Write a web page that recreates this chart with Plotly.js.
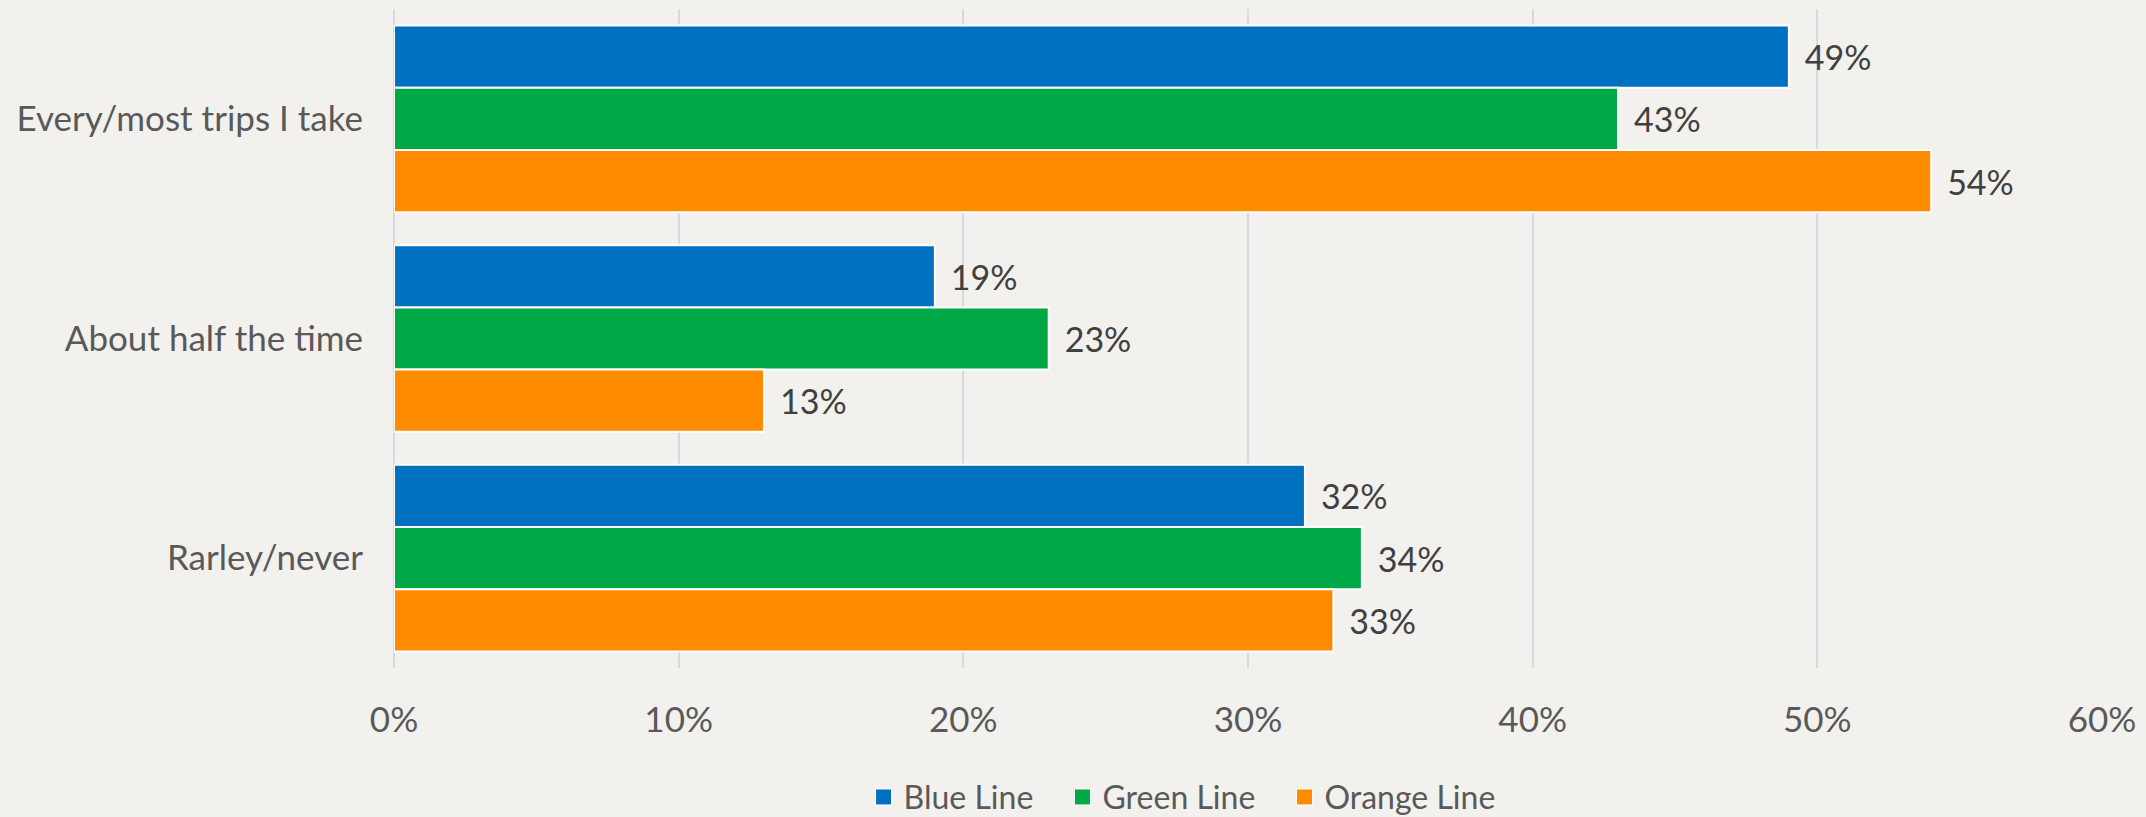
<!DOCTYPE html>
<html>
<head>
<meta charset="utf-8">
<script src="https://cdn.plot.ly/plotly-3.0.1.min.js"></script>
<style>
  html, body { margin: 0; padding: 0; background: #F2F1EE; }
  #chart { width: 2146px; height: 817px; }
</style>
</head>
<body>
<div id="chart"></div>
<script>
// ---- data ----
const categories = ["Every/most trips I take", "About half the time", "Rarley/never"];
const seriesNames = ["Blue Line", "Green Line", "Orange Line"];
const blueLine = [49, 19, 32];
const greenLine = [43, 23, 34];
const orangeLine = [54, 13, 33];
const xTickValues = [0, 10, 20, 30, 40, 50, 60];

const seriesValues = [blueLine, greenLine, orangeLine];
const colors = ["#0070C0", "#00A846", "#FF8C00"];
const FONT = "Lato, 'Open Sans', sans-serif";

const traces = [];
seriesValues.forEach((vals, i) => {
  traces.push({
    type: "bar",
    orientation: "h",
    name: seriesNames[i],
    y: categories,
    x: vals,
    marker: { color: colors[i], line: { color: "#FFFFFF", width: 2 } },
    text: vals.map(v => "\u00A0\u2009" + v + "%"),
    texttemplate: "%{text}",
    textposition: "outside",
    constraintext: "none",
    cliponaxis: false,
    textfont: { family: FONT, size: 34, color: "#404040" },
    hoverinfo: "skip",
    showlegend: false
  });
});
// legend proxies (square swatches); trailing spacing mimics the reference item gaps
seriesValues.forEach((vals, i) => {
  const pad = i < seriesValues.length - 1 ? "\u2002\u00A0" : "";
  traces.push({
    type: "scatter",
    mode: "markers",
    name: seriesNames[i] + pad,
    x: [null],
    y: [null],
    marker: { symbol: "square", size: 16, color: colors[i], line: { color: "#FFFFFF", width: 1 } },
    showlegend: true,
    hoverinfo: "skip"
  });
});

const layout = {
  width: 2146,
  height: 817,
  paper_bgcolor: "#F2F1EE",
  plot_bgcolor: "#F2F1EE",
  margin: { l: 394, r: 44, t: 9, b: 149, pad: 0, autoexpand: false },
  barmode: "group",
  bargap: 0.15,
  bargroupgap: 0,
  font: { family: FONT, color: "#595959", size: 35 },
  xaxis: {
    range: [0, 60],
    tickvals: xTickValues,
    ticktext: xTickValues.map(v => v + "%"),
    showgrid: true,
    gridcolor: "#D9D9D9",
    gridwidth: 2,
    zeroline: true,
    zerolinecolor: "#D9D9D9",
    zerolinewidth: 2,
    showline: false,
    ticks: "",
    ticklabelstandoff: 28,
    tickfont: { family: FONT, size: 35, color: "#595959" },
    automargin: false,
    fixedrange: true
  },
  yaxis: {
    type: "category",
    categoryorder: "array",
    categoryarray: categories,
    autorange: "reversed",
    showgrid: false,
    zeroline: false,
    showline: false,
    ticks: "",
    ticklabelstandoff: 30,
    tickfont: { family: FONT, size: 35, color: "#595959" },
    automargin: false,
    fixedrange: true
  },
  legend: {
    orientation: "h",
    x: 0.4614,
    xanchor: "center",
    y: -0.196,
    yanchor: "middle",
    font: { family: FONT, size: 32, color: "#595959" },
    bgcolor: "rgba(0,0,0,0)",
    itemwidth: 30,
    traceorder: "normal"
  },
  showlegend: true
};

Plotly.newPlot("chart", traces, layout, { displayModeBar: false, staticPlot: true });
</script>
</body>
</html>
